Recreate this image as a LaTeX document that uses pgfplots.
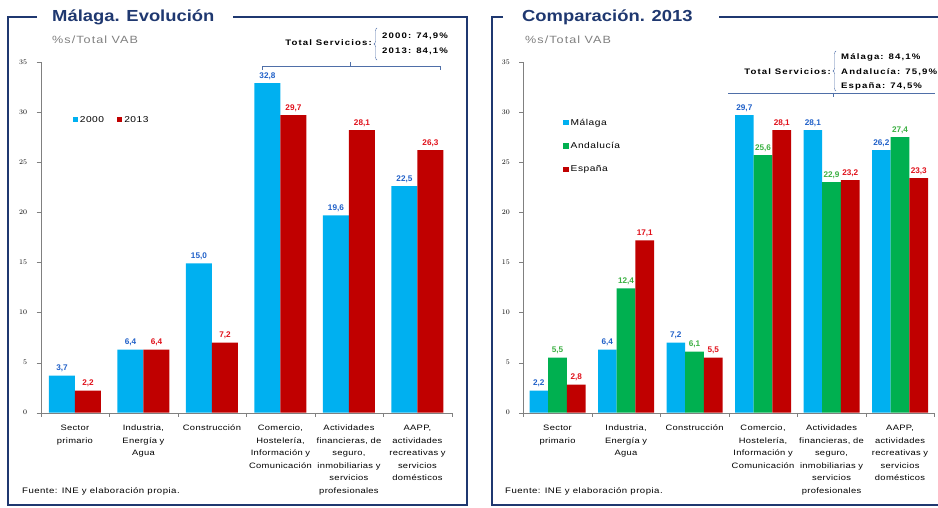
\documentclass[border=0pt]{standalone}
\usepackage{pgfplots}
\pgfplotsset{compat=1.18}
\usepackage{pgfplotstable}
\usepackage{fontspec}
\setmainfont{Liberation Sans}
\newfontfamily\ws{Liberation Sans}[FakeStretch=1.2, LetterSpace=6]
\newfontfamily\wx{Liberation Sans}[FakeStretch=1.2, LetterSpace=4]
\newfontfamily\wt{Liberation Sans}[FakeStretch=1.2, LetterSpace=14]
\newfontfamily\wsub{Liberation Sans}[FakeStretch=1.2, LetterSpace=10]
\newfontfamily\ttl{Liberation Sans}[FakeStretch=1.15]
\usetikzlibrary{decorations.pathreplacing}

\definecolor{cblue}{HTML}{00B0F0}
\definecolor{cred}{HTML}{C00000}
\definecolor{cgreen}{HTML}{00B050}
\definecolor{navy}{HTML}{1F3870}
\definecolor{lblue}{HTML}{2060C8}
\definecolor{lred}{HTML}{E0101A}
\definecolor{lgreen}{HTML}{3CB043}
\definecolor{brk}{HTML}{4F6FA8}

% Malaga, evolucion
\pgfplotstableread{
x y lab
0 3.7 3,7
1 6.3 6,4
2 14.9 15,0
3 32.9 32,8
4 19.7 19,6
5 22.6 22,5
}\evoA
\pgfplotstableread{
x y lab
0 2.2 2,2
1 6.3 6,4
2 7.0 7,2
3 29.7 29,7
4 28.2 28,1
5 26.2 26,3
}\evoB
% comparacion 2013
\pgfplotstableread{
x y lab
0 2.2 2,2
1 6.3 6,4
2 7.0 7,2
3 29.7 29,7
4 28.2 28,1
5 26.2 26,2
}\cmpM
\pgfplotstableread{
x y lab
0 5.5 5,5
1 12.4 12,4
2 6.1 6,1
3 25.7 25,6
4 23.0 22,9
5 27.5 27,4
}\cmpA
\pgfplotstableread{
x y lab
0 2.8 2,8
1 17.2 17,1
2 5.5 5,5
3 28.2 28,1
4 23.2 23,2
5 23.4 23,3
}\cmpE

\pgfplotsset{
  panel/.style={
    scale only axis, width=411pt, height=350.7pt,
    ymin=0, ymax=35, ytick={0,5,...,35},
    xmin=-0.5, xmax=5.5, xtick={0,...,5},
    xticklabels={{Sector\\primario},{Industria,\\Energía y\\Agua},{Construcción},
      {Comercio,\\Hostelería,\\Información y\\Comunicación},
      {Actividades\\financieras, de\\seguro,\\inmobiliarias y\\servicios\\profesionales},
      {AAPP,\\actividades\\recreativas y\\servicios\\domésticos}},
    axis lines*=left, axis line style={gray},
    tick align=outside, major tick length=4pt, minor tick length=4pt,
    major x tick style={draw=none}, minor xtick={-0.5,0.5,...,5.5},
    tick style={gray},
    x tick label style={font=\wx\fontsize{7.8}{12.5}\selectfont, align=center, text width=80pt, yshift=-5pt},
    y tick label style={font=\fontsize{7.5}{8}\selectfont, xshift=-6pt},
    ybar=0pt, clip=false,
    nodes near coords, point meta=explicit symbolic,
    every node near coord/.append style={font=\fontsize{8.2}{9}\selectfont\bfseries},
    legend image code/.code={\fill[#1] (0pt,-2.6pt) rectangle (5.2pt,2.6pt);},
    legend style={draw=none, fill=none, font=\ws\fontsize{8.5}{9}\selectfont},
  }
}

\begin{document}
\begin{tikzpicture}
\useasboundingbox (0pt,0pt) rectangle (938pt,507pt);

% left panel
\begin{axis}[panel, at={(40.7pt,94.3pt)}, anchor=south west,
  bar width=26pt,
  legend columns=2,
  legend style={at={(0.07,0.835)}, anchor=west, /tikz/every even column/.append style={column sep=11pt}}]
\addplot[fill=cblue, draw=none, every node near coord/.append style={text=lblue}]
  table[x=x,y=y,meta=lab] {\evoA};
\addlegendentry{2000}
\addplot[fill=cred, draw=none, every node near coord/.append style={text=lred}]
  table[x=x,y=y,meta=lab] {\evoB};
\addlegendentry{2013}
\end{axis}

% right panel
\begin{axis}[panel, at={(523.3pt,94.3pt)}, anchor=south west,
  bar width=18.7pt,
  legend cell align=left,
  legend style={at={(0.09,0.85)}, anchor=north west, row sep=11.5pt}]
\addplot[fill=cblue, draw=none, every node near coord/.append style={text=lblue}]
  table[x=x,y=y,meta=lab] {\cmpM};
\addlegendentry{Málaga}
\addplot[fill=cgreen, draw=none, every node near coord/.append style={text=lgreen}]
  table[x=x,y=y,meta=lab] {\cmpA};
\addlegendentry{Andalucía}
\addplot[fill=cred, draw=none, every node near coord/.append style={text=lred}]
  table[x=x,y=y,meta=lab] {\cmpE};
\addlegendentry{España}
\end{axis}

\begin{scope}[x=1pt,y=1pt]
% frames and titles
\draw[navy, line width=1.8pt] (37,490) -- (8,490) -- (8,2) -- (467,2) -- (467,490) -- (233,490);
\draw[navy, line width=1.8pt] (503,490) -- (492,490) -- (492,2) -- (940,2);
\draw[navy, line width=1.8pt] (719,490) -- (940,490);
\node[anchor=west, text=navy, font=\ttl\fontsize{16}{18}\selectfont\bfseries, inner sep=0pt] at (52,490) {Málaga. Evolución};
\node[anchor=west, text=navy, font=\ttl\fontsize{16}{18}\selectfont\bfseries, inner sep=0pt] at (522,490) {Comparación. 2013};
\node[anchor=west, text=gray, font=\wsub\fontsize{10.5}{12}\selectfont, inner sep=0pt] at (52,467) {\%s/Total VAB};
\node[anchor=west, text=gray, font=\wsub\fontsize{10.5}{12}\selectfont, inner sep=0pt] at (525,467) {\%s/Total VAB};
\node[anchor=west, font=\ws\fontsize{8}{9}\selectfont, inner sep=0pt] at (22,16) {Fuente: INE y elaboración propia.};
\node[anchor=west, font=\ws\fontsize{8}{9}\selectfont, inner sep=0pt] at (505,16) {Fuente: INE y elaboración propia.};

% total servicios, left
\node[anchor=east, font=\wt\fontsize{8}{9}\selectfont\bfseries, inner sep=0pt] at (372,464) {Total Servicios:};
\draw[brk, decorate, decoration={brace, amplitude=3pt}] (377,447) -- (377,479);
\node[anchor=west, font=\wt\fontsize{8}{9}\selectfont\bfseries, inner sep=0pt] at (382,471) {2000: 74,9\%};
\node[anchor=west, font=\wt\fontsize{8}{9}\selectfont\bfseries, inner sep=0pt] at (382,456) {2013: 84,1\%};
\draw[brk, line width=0.9pt] (262,437) -- (262,441) -- (440,441) -- (440,437);
\draw[brk, line width=0.9pt] (350,441) -- (350,445);

% total servicios, right
\node[anchor=east, font=\wt\fontsize{8}{9}\selectfont\bfseries, inner sep=0pt] at (831,435) {Total Servicios:};
\draw[brk, decorate, decoration={brace, amplitude=3pt}] (836,416) -- (836,456);
\node[anchor=west, font=\wt\fontsize{8}{9}\selectfont\bfseries, inner sep=0pt] at (841,450) {Málaga: 84,1\%};
\node[anchor=west, font=\wt\fontsize{8}{9}\selectfont\bfseries, inner sep=0pt] at (841,435) {Andalucía: 75,9\%};
\node[anchor=west, font=\wt\fontsize{8}{9}\selectfont\bfseries, inner sep=0pt] at (841,421) {España: 74,5\%};
\draw[brk, line width=0.9pt] (728,414) -- (935,414);
\draw[brk, line width=0.9pt] (833,414) -- (833,410);
\end{scope}
\end{tikzpicture}
\end{document}
